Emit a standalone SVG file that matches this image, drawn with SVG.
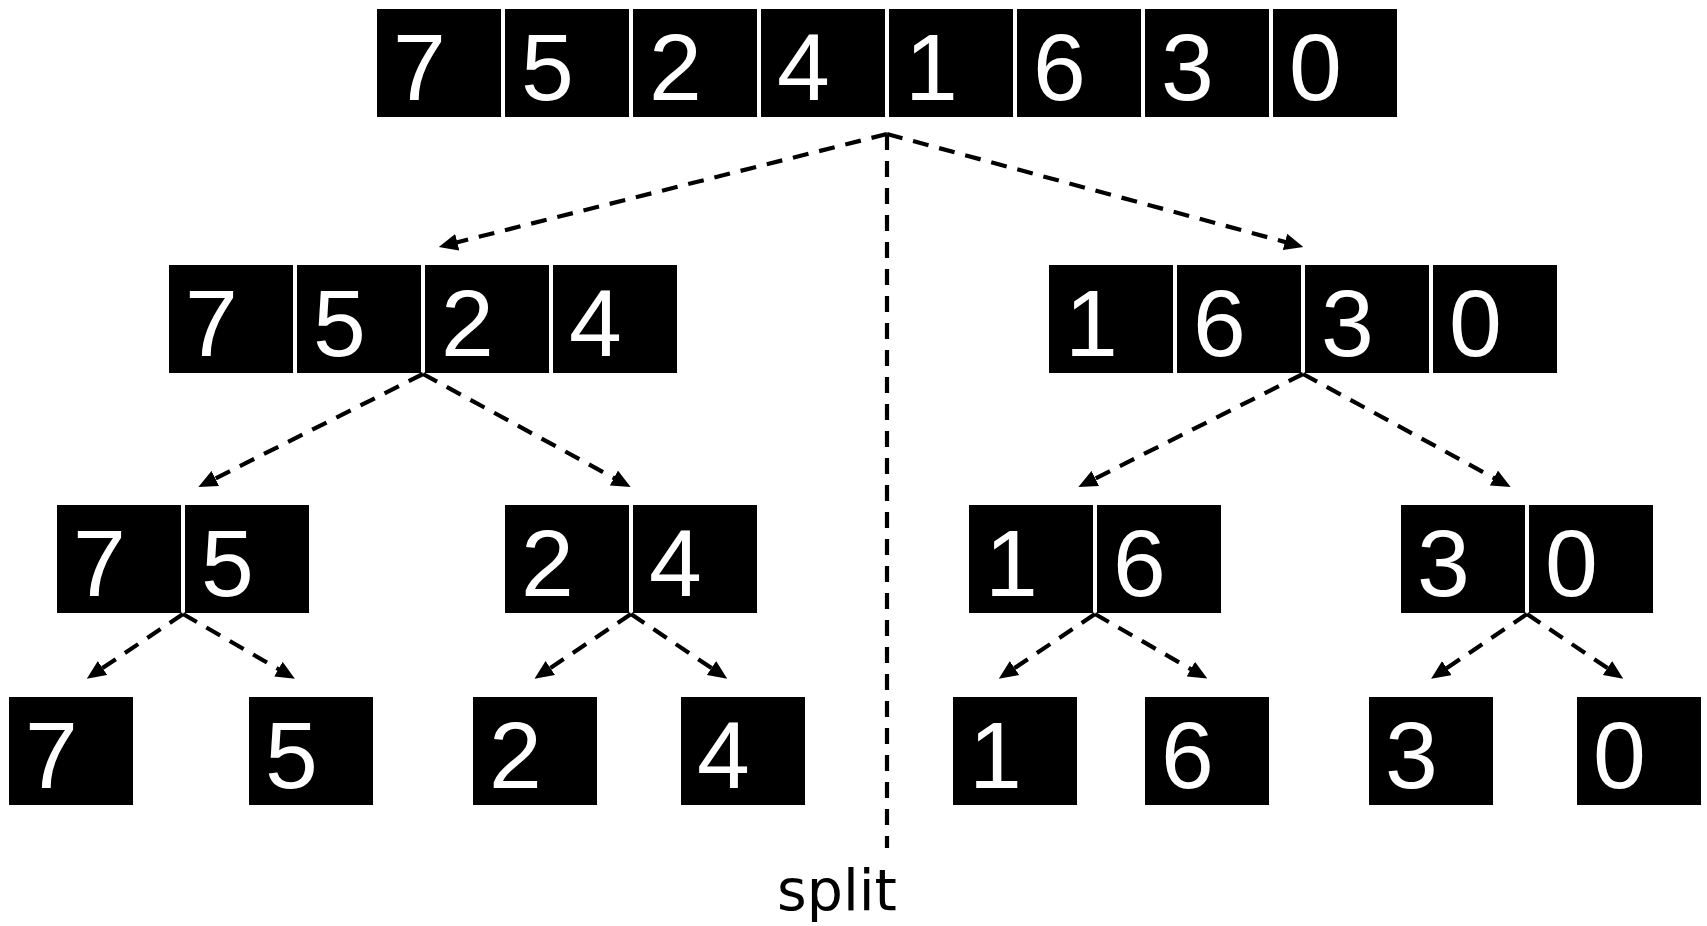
<svg xmlns="http://www.w3.org/2000/svg" width="1707" height="926" viewBox="0 0 1707 926">
<style>
.cell{fill:#000}
.num{fill:#fff;font-family:"Liberation Sans",Arial,sans-serif;font-size:95px}
.edge{fill:none;stroke:#000;stroke-width:4.2;stroke-dasharray:16 11}
.lbl{fill:#000;font-family:"DejaVu Sans",Verdana,sans-serif;font-size:57px}
</style>
<defs>
<marker id="ah" markerUnits="userSpaceOnUse" markerWidth="19" markerHeight="17" refX="6" refY="8" orient="auto" viewBox="0 0 18 16">
<path d="M0,0 L18,8 L0,16 z" fill="#000"/>
</marker>
</defs>
<rect width="1707" height="926" fill="#fff"/>

<g id="connectors">
<path class="edge" d="M887,134 L887,848"/>
<path class="edge" marker-end="url(#ah)" d="M887,134 L451.1,243.8"/>
<path class="edge" marker-end="url(#ah)" d="M887,134 L1291.1,243.6"/>
<path class="edge" marker-end="url(#ah)" d="M423,374 L209.7,481.3"/>
<path class="edge" marker-end="url(#ah)" d="M423,374 L619.5,481"/>
<path class="edge" marker-end="url(#ah)" d="M1303,374 L1089.7,481.3"/>
<path class="edge" marker-end="url(#ah)" d="M1303,374 L1499.5,481"/>
<path class="edge" marker-end="url(#ah)" d="M183,614 L97.3,671.6"/>
<path class="edge" marker-end="url(#ah)" d="M183,614 L283.9,672.3"/>
<path class="edge" marker-end="url(#ah)" d="M631,614 L545,671.6"/>
<path class="edge" marker-end="url(#ah)" d="M631,614 L716.7,671.6"/>
<path class="edge" marker-end="url(#ah)" d="M1095,614 L1009.3,671.6"/>
<path class="edge" marker-end="url(#ah)" d="M1095,614 L1196.3,672.3"/>
<path class="edge" marker-end="url(#ah)" d="M1527,614 L1441.6,671.6"/>
<path class="edge" marker-end="url(#ah)" d="M1527,614 L1612.7,671.6"/>
</g>

<g id="root">
<rect class="cell" x="377" y="9" width="124" height="108"/><text class="num" x="393" y="100">7</text>
<rect class="cell" x="505" y="9" width="124" height="108"/><text class="num" x="521" y="100">5</text>
<rect class="cell" x="633" y="9" width="124" height="108"/><text class="num" x="649" y="100">2</text>
<rect class="cell" x="761" y="9" width="124" height="108"/><text class="num" x="777" y="100">4</text>
<rect class="cell" x="889" y="9" width="124" height="108"/><text class="num" x="905" y="100">1</text>
<rect class="cell" x="1017" y="9" width="124" height="108"/><text class="num" x="1033" y="100">6</text>
<rect class="cell" x="1145" y="9" width="124" height="108"/><text class="num" x="1161" y="100">3</text>
<rect class="cell" x="1273" y="9" width="124" height="108"/><text class="num" x="1289" y="100">0</text>
</g>

<g id="left-half">
<rect class="cell" x="169" y="265" width="124" height="108"/><text class="num" x="185" y="356">7</text>
<rect class="cell" x="297" y="265" width="124" height="108"/><text class="num" x="313" y="356">5</text>
<rect class="cell" x="425" y="265" width="124" height="108"/><text class="num" x="441" y="356">2</text>
<rect class="cell" x="553" y="265" width="124" height="108"/><text class="num" x="569" y="356">4</text>
</g>

<g id="right-half">
<rect class="cell" x="1049" y="265" width="124" height="108"/><text class="num" x="1065" y="356">1</text>
<rect class="cell" x="1177" y="265" width="124" height="108"/><text class="num" x="1193" y="356">6</text>
<rect class="cell" x="1305" y="265" width="124" height="108"/><text class="num" x="1321" y="356">3</text>
<rect class="cell" x="1433" y="265" width="124" height="108"/><text class="num" x="1449" y="356">0</text>
</g>

<g id="pair-75">
<rect class="cell" x="57" y="505" width="124" height="108"/><text class="num" x="73" y="596">7</text>
<rect class="cell" x="185" y="505" width="124" height="108"/><text class="num" x="201" y="596">5</text>
</g>
<g id="pair-24">
<rect class="cell" x="505" y="505" width="124" height="108"/><text class="num" x="521" y="596">2</text>
<rect class="cell" x="633" y="505" width="124" height="108"/><text class="num" x="649" y="596">4</text>
</g>
<g id="pair-16">
<rect class="cell" x="969" y="505" width="124" height="108"/><text class="num" x="985" y="596">1</text>
<rect class="cell" x="1097" y="505" width="124" height="108"/><text class="num" x="1113" y="596">6</text>
</g>
<g id="pair-30">
<rect class="cell" x="1401" y="505" width="124" height="108"/><text class="num" x="1417" y="596">3</text>
<rect class="cell" x="1529" y="505" width="124" height="108"/><text class="num" x="1545" y="596">0</text>
</g>

<g id="leaf-7"><rect class="cell" x="9" y="697" width="124" height="108"/><text class="num" x="25" y="788">7</text></g>
<g id="leaf-5"><rect class="cell" x="249" y="697" width="124" height="108"/><text class="num" x="265" y="788">5</text></g>
<g id="leaf-2"><rect class="cell" x="473" y="697" width="124" height="108"/><text class="num" x="489" y="788">2</text></g>
<g id="leaf-4"><rect class="cell" x="681" y="697" width="124" height="108"/><text class="num" x="697" y="788">4</text></g>
<g id="leaf-1"><rect class="cell" x="953" y="697" width="124" height="108"/><text class="num" x="969" y="788">1</text></g>
<g id="leaf-6"><rect class="cell" x="1145" y="697" width="124" height="108"/><text class="num" x="1161" y="788">6</text></g>
<g id="leaf-3"><rect class="cell" x="1369" y="697" width="124" height="108"/><text class="num" x="1385" y="788">3</text></g>
<g id="leaf-0"><rect class="cell" x="1577" y="697" width="124" height="108"/><text class="num" x="1593" y="788">0</text></g>

<g id="split-label"><text class="lbl" x="777" y="910">split</text></g>
</svg>
